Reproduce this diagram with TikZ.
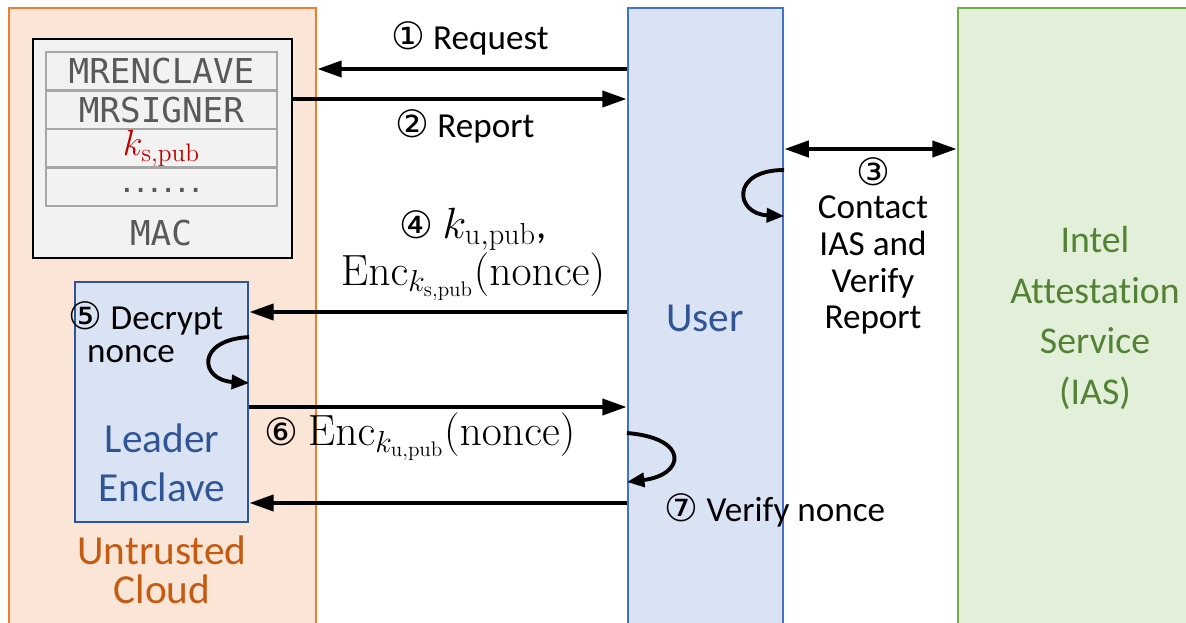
\documentclass[tikz,border=0pt]{standalone}
\usepackage[no-math]{fontspec}
\setmainfont{Carlito}[Ligatures=NoCommon]
\newfontfamily\monofont{DejaVu Sans Mono}
\newfontfamily\circfont{DejaVu Sans}
\usetikzlibrary{arrows.meta,fit,positioning}

\definecolor{cloudfill}{HTML}{FBE5D6}
\definecolor{cloudline}{HTML}{ED7D31}
\definecolor{cloudtext}{HTML}{C55A11}
\definecolor{userfill}{HTML}{DAE3F3}
\definecolor{userline}{HTML}{4472C4}
\definecolor{usertext}{HTML}{2F5597}
\definecolor{iasfill}{HTML}{E2F0D9}
\definecolor{iasline}{HTML}{70AD47}
\definecolor{iastext}{HTML}{548235}
\definecolor{reportfill}{HTML}{F2F2F2}
\definecolor{fieldgray}{HTML}{A6A6A6}
\definecolor{monotext}{HTML}{595959}
\definecolor{keyred}{HTML}{C00000}

\newcommand{\cnum}[1]{{\circfont\fontsize{21.5}{21.5}\selectfont #1}}

\begin{document}
\begin{tikzpicture}[x=0.02cm, y=-0.02cm,
  lbl/.style={font=\fontsize{20}{21}\selectfont, inner sep=0pt, align=center},
  big/.style={font=\fontsize{23.5}{28}\selectfont, inner sep=0pt, align=center},
  mathlbl/.style={font=\fontsize{23.5}{18}\selectfont, inner sep=0pt, align=center},
  field/.style={draw=fieldgray, line width=1.3pt, minimum width=4.62cm,
    minimum height=0.77cm, inner sep=0pt, outer sep=0pt, text=monotext,
    font=\monofont\fontsize{19.5}{19.5}\selectfont},
  msg/.style={line width=2.6pt, -{Triangle[length=14pt,width=9pt]}},
  loopy/.style={line width=2.2pt, -{Triangle[length=10pt,width=8pt]}}]

  \useasboundingbox (0,0) rectangle (1186,622);

  %% Columns
  \node[fit={(9,8) (316,640)}, inner sep=0pt, draw=cloudline, fill=cloudfill, line width=1.3pt] (cloud) {};
  \node[fit={(628,8) (783,640)}, inner sep=0pt, draw=userline, fill=userfill, line width=1.3pt] (user) {};
  \node[fit={(958,8) (1200,640)}, inner sep=0pt, draw=iasline, fill=iasfill, line width=1.3pt] (ias) {};

  %% Report with its fields
  \node[fit={(33,39) (292,258)}, inner sep=0pt, draw=black, fill=reportfill, line width=1.4pt] (report) {};
  \node[field, anchor=north west] (fEnclave) at (46,52) {MRENCLAVE};
  \node[field, below=0pt of fEnclave] (fSigner) {MRSIGNER};
  \node[field, below=0pt of fSigner, text=keyred, font=\fontsize{21.5}{21.5}\selectfont] (fKey) {$k_{\mathrm{s,pub}}$};
  \node[field, below=0pt of fKey] (fDots) {\raisebox{-7pt}{\fontsize{13}{13}\selectfont\bfseries ......}};
  \node[text=monotext, font=\monofont\fontsize{19.5}{19.5}\selectfont, inner sep=0pt] (fMac) at (161,233) {MAC};

  %% Leader enclave
  \node[fit={(75,282) (248,522)}, inner sep=0pt, draw=usertext, fill=userfill, line width=1.3pt] (enclave) {};
  \node[big, text=usertext] (tEnclave) at (162,463) {Leader\\Enclave};
  \node[big, text=cloudtext, font=\fontsize{23.5}{22}\selectfont] (tCloud) at (162,570) {Untrusted\\Cloud};
  \node[big, text=usertext] (tUser) at (705,318) {User};
  \node[big, text=iastext, font=\fontsize{21.5}{29}\selectfont] (tIas) at (1095,318) {Intel\\Attestation\\Service\\(IAS)};

  %% Messages
  \draw[msg] (user.west |- 0,69) -- (cloud.east |- 0,69);
  \node[lbl] (lReq) at (470,38) {\cnum{①} Request};
  \draw[msg] (report.east |- 0,99) -- (user.west |- 0,99);
  \node[lbl] (lRep) at (465,126) {\cnum{②} Report};

  \draw[line width=2.6pt, {Triangle[length=14pt,width=9pt]}-{Triangle[length=14pt,width=9pt]}]
    (user.east |- 0,149) -- (ias.west |- 0,149);
  \node[lbl] (lThree) at (873,172) {\cnum{③}};
  \node[lbl] (lContact) at (873,265) {Contact\\IAS and\\Verify\\Report};
  \draw[loopy] (user.east |- 0,170) .. controls (730,170) and (735,214) .. (user.east |- 0,216);

  \draw[msg] (user.west |- 0,312) -- (enclave.east |- 0,312);
  \node[mathlbl] (lFour) at (473,254) {\cnum{④} $k_{\mathrm{u,pub}}$,\\ $\mathrm{Enc}_{k_{\mathrm{s,pub}}}(\mathrm{nonce})$};

  \node[lbl, anchor=base] (lFive) at (146,329) {\cnum{⑤} Decrypt};
  \node[lbl, anchor=base] (lNonce) at (131,362) {nonce};
  \draw[loopy] (enclave.east |- 0,337) .. controls (195,340) and (200,380) .. (enclave.east |- 0,383);

  \draw[msg] (enclave.east |- 0,407) -- (user.west |- 0,407);
  \node[mathlbl] (lSix) at (420,437) {\cnum{⑥} $\mathrm{Enc}_{k_{\mathrm{u,pub}}}(\mathrm{nonce})$};

  \draw[loopy] (user.west |- 0,433) .. controls (690,438) and (685,475) .. (user.west |- 0,482);
  \draw[msg] (user.west |- 0,503) -- (enclave.east |- 0,503);
  \node[lbl] (lSeven) at (775,510) {\cnum{⑦} Verify nonce};

\end{tikzpicture}
\end{document}
